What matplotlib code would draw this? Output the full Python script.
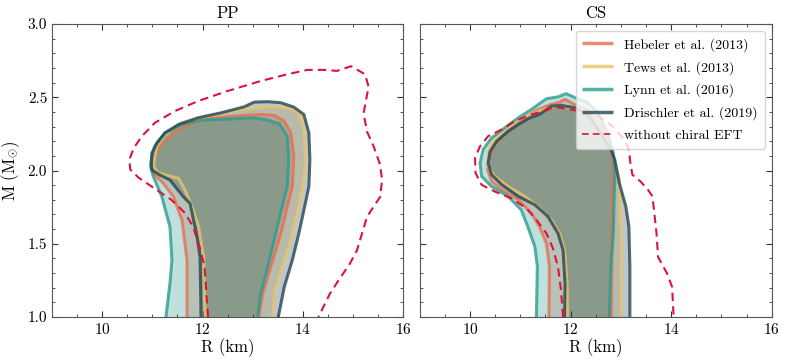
import matplotlib
matplotlib.use("Agg")
import matplotlib.pyplot as plt
from matplotlib.ticker import MultipleLocator

plt.rcParams['font.family'] = 'serif'
plt.rcParams['font.serif'] = ['cmr10']
plt.rcParams['mathtext.fontset'] = 'cm'
plt.rcParams['axes.formatter.use_mathtext'] = True

# ---------------- data (R in km, M in Msun) ----------------
labels = ["Hebeler et al. (2013)", "Tews et al. (2013)", "Lynn et al. (2016)",
          "Drischler et al. (2019)", "without chiral EFT"]
colors = ["#e76f51", "#e9c46a", "#2a9d8f", "#264653", "#dc143c"]

# PP panel
pp_heb_R = [11.69, 11.69, 11.59, 11.42, 11.22, 11.02, 11.02, 11.15, 11.45, 11.98, 12.64, 13.16, 13.43, 13.63, 13.76, 13.82, 13.79, 13.69, 13.56, 13.36, 13.20, 13.12]
pp_heb_M = [1.00, 1.389, 1.662, 1.82, 1.913, 1.98, 2.074, 2.166, 2.269, 2.349, 2.371, 2.383, 2.376, 2.337, 2.257, 2.097, 1.891, 1.754, 1.571, 1.343, 1.16, 1.00]

pp_tew_R = [12.05, 12.02, 11.92, 11.79, 11.65, 11.52, 11.39, 11.12, 11.02, 11.05, 11.09, 11.25, 11.58, 12.11, 12.77, 13.30, 13.69, 13.92, 14.02, 14.05, 14.02, 13.92, 13.76, 13.59, 13.43, 13.40]
pp_tew_M = [1.00, 1.41, 1.616, 1.753, 1.867, 1.947, 1.958, 1.983, 2.029, 2.097, 2.166, 2.246, 2.326, 2.371, 2.417, 2.435, 2.43, 2.394, 2.303, 2.074, 1.937, 1.754, 1.526, 1.343, 1.16, 1.00]

pp_lyn_R = [11.27, 11.35, 11.39, 11.35, 11.19, 11.02, 10.96, 10.99, 11.05, 11.25, 11.58, 11.98, 12.64, 13.03, 13.30, 13.53, 13.69, 13.72, 13.69, 13.59, 13.46, 13.30, 13.16, 13.10]
pp_lyn_M = [1.00, 1.229, 1.389, 1.616, 1.82, 1.958, 2.029, 2.097, 2.166, 2.257, 2.314, 2.344, 2.353, 2.36, 2.344, 2.32, 2.234, 2.074, 1.891, 1.754, 1.571, 1.343, 1.16, 1.00]

pp_dri_R = [11.97, 11.95, 11.89, 11.75, 11.62, 11.35, 11.15, 10.99, 10.98, 10.99, 11.09, 11.25, 11.52, 11.91, 12.37, 12.83, 13.03, 13.30, 13.56, 13.82, 14.02, 14.12, 14.14, 14.12, 14.05, 13.92, 13.79, 13.63, 13.51]
pp_dri_M = [1.00, 1.41, 1.548, 1.776, 1.82, 1.935, 1.969, 2.003, 2.051, 2.12, 2.189, 2.257, 2.314, 2.36, 2.394, 2.435, 2.467, 2.47, 2.463, 2.433, 2.383, 2.257, 2.074, 1.891, 1.777, 1.571, 1.389, 1.206, 1.00]

pp_free_R = [12.11, 12.04, 11.94, 11.81, 11.65, 11.38, 10.99, 10.73, 10.56, 10.54, 10.63, 10.79, 11.05, 11.45, 11.91, 12.50, 13.16, 13.69, 14.09, 14.42, 14.68, 14.96, 15.24, 15.31, 15.21, 15.28, 15.41, 15.54, 15.58, 15.54, 15.28, 15.08, 14.94, 14.71, 14.54, 14.31]
pp_free_M = [1.00, 1.343, 1.48, 1.617, 1.71, 1.80, 1.89, 1.95, 2.006, 2.074, 2.154, 2.234, 2.326, 2.406, 2.474, 2.543, 2.611, 2.657, 2.687, 2.687, 2.68, 2.712, 2.657, 2.572, 2.39, 2.265, 2.166, 2.04, 1.935, 1.82, 1.685, 1.457, 1.366, 1.25, 1.16, 1.00]

# CS panel
cs_heb_R = [11.57, 11.58, 11.52, 11.38, 11.22, 10.96, 10.63, 10.43, 10.35, 10.38, 10.49, 10.72, 11.02, 11.29, 11.55, 11.78, 11.89, 12.08, 12.34, 12.60, 12.80, 12.85, 12.83, 12.82, 12.81]
cs_heb_M = [1.00, 1.343, 1.503, 1.617, 1.709, 1.80, 1.869, 1.926, 2.006, 2.097, 2.177, 2.257, 2.337, 2.406, 2.445, 2.467, 2.486, 2.451, 2.417, 2.303, 2.166, 2.029, 1.80, 1.343, 1.00]

cs_tew_R = [11.94, 11.93, 11.88, 11.78, 11.62, 11.35, 11.09, 10.76, 10.49, 10.36, 10.36, 10.46, 10.69, 10.96, 11.22, 11.48, 11.68, 12.01, 12.34, 12.63, 12.83, 12.97, 13.01, 13.00]
cs_tew_M = [1.00, 1.229, 1.457, 1.571, 1.663, 1.754, 1.823, 1.891, 1.96, 2.029, 2.12, 2.211, 2.28, 2.349, 2.383, 2.417, 2.44, 2.429, 2.383, 2.257, 2.12, 1.937, 1.571, 1.00]

cs_lyn_R = [11.32, 11.34, 11.29, 11.15, 11.02, 10.76, 10.43, 10.23, 10.20, 10.26, 10.43, 10.69, 10.96, 11.22, 11.52, 11.75, 11.91, 12.14, 12.34, 12.54, 12.74, 12.85, 12.88, 12.85, 12.80, 12.77]
cs_lyn_M = [1.00, 1.343, 1.48, 1.617, 1.731, 1.823, 1.891, 1.96, 2.051, 2.143, 2.223, 2.291, 2.36, 2.417, 2.49, 2.503, 2.525, 2.49, 2.463, 2.394, 2.257, 2.12, 1.983, 1.571, 1.343, 1.00]

cs_dri_R = [11.88, 11.89, 11.85, 11.75, 11.55, 11.29, 10.96, 10.63, 10.43, 10.36, 10.40, 10.53, 10.76, 10.96, 11.19, 11.38, 11.62, 11.81, 12.08, 12.34, 12.60, 12.80, 12.88, 12.97, 13.10, 13.16, 13.18, 13.18]
cs_dri_M = [1.00, 1.229, 1.457, 1.571, 1.686, 1.766, 1.823, 1.903, 1.971, 2.051, 2.131, 2.20, 2.269, 2.314, 2.36, 2.383, 2.44, 2.445, 2.429, 2.383, 2.257, 2.143, 2.074, 1.914, 1.754, 1.617, 1.343, 1.00]

cs_free_R = [11.85, 11.81, 11.75, 11.65, 11.52, 11.32, 11.12, 10.82, 10.49, 10.23, 10.11, 10.10, 10.20, 10.36, 10.63, 10.89, 11.22, 11.48, 11.68, 12.01, 12.27, 12.55, 12.83, 13.07, 13.16, 13.19, 13.23, 13.39, 13.54, 13.63, 13.71, 13.74, 13.92, 14.02, 14.05]
cs_free_M = [1.00, 1.183, 1.343, 1.469, 1.571, 1.663, 1.743, 1.811, 1.857, 1.903, 1.983, 2.086, 2.166, 2.234, 2.28, 2.337, 2.383, 2.406, 2.435, 2.417, 2.394, 2.37, 2.303, 2.211, 2.143, 2.051, 1.971, 1.926, 1.869, 1.823, 1.571, 1.411, 1.297, 1.206, 1.00]

panels = [
    ("PP", [(pp_heb_R, pp_heb_M), (pp_tew_R, pp_tew_M), (pp_lyn_R, pp_lyn_M), (pp_dri_R, pp_dri_M)], (pp_free_R, pp_free_M)),
    ("CS", [(cs_heb_R, cs_heb_M), (cs_tew_R, cs_tew_M), (cs_lyn_R, cs_lyn_M), (cs_dri_R, cs_dri_M)], (cs_free_R, cs_free_M)),
]

fig = plt.figure(figsize=(7.89, 3.64), dpi=100)
ax1 = fig.add_axes([0.066, 0.129, 0.445, 0.805])
ax2 = fig.add_axes([0.532, 0.129, 0.446, 0.805])

for ax, (title, models, free) in zip([ax1, ax2], panels):
    for (R, M), c in zip(models, colors[:4]):
        ax.fill(R, M, color=c, alpha=0.3, lw=0)
    for (R, M), c, lab in zip(models, colors[:4], labels[:4]):
        ax.plot(R, M, color=c, lw=2.2, alpha=0.8, label=lab, solid_capstyle='butt')
    ax.plot(free[0], free[1], color=colors[4], lw=1.5, ls=(0, (4, 2.5)), label=labels[4])
    ax.set_xlim(9, 16)
    ax.set_ylim(1.0, 3.0)
    ax.set_title(title, fontsize=12, pad=4)
    ax.set_xlabel("R (km)", fontsize=12, labelpad=1)
    ax.xaxis.set_major_locator(MultipleLocator(2))
    ax.xaxis.set_minor_locator(MultipleLocator(0.5))
    ax.yaxis.set_major_locator(MultipleLocator(0.5))
    ax.yaxis.set_minor_locator(MultipleLocator(0.1))
    ax.tick_params(which='both', direction='in', top=True, right=True, labelsize=11, colors='#333333', labelcolor='black')
    ax.tick_params(which='major', length=4)
    ax.tick_params(which='minor', length=2)
    for s in ax.spines.values():
        s.set_color('#555555')

ax1.set_ylabel(r"M (M$_{\odot}$)", fontsize=12, labelpad=4)
ax1.yaxis.set_major_formatter(matplotlib.ticker.FormatStrFormatter('%.1f'))
ax2.tick_params(labelleft=False)

leg = ax2.legend(loc='upper right', fontsize=10, framealpha=0.8, borderpad=0.5,
                 handlelength=2.2, labelspacing=0.65)
for h in leg.get_lines()[:4]:
    h.set_linewidth(2.5)
leg.get_lines()[4].set_linewidth(1.2)

fig.savefig("out.png", dpi=100)
